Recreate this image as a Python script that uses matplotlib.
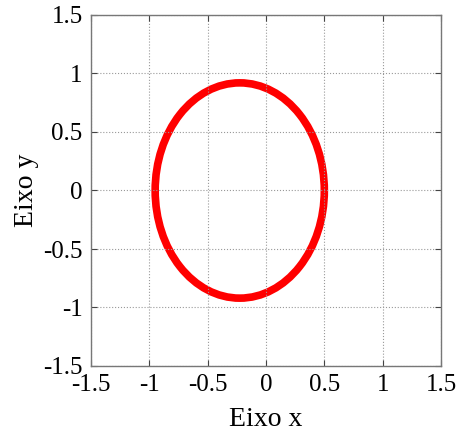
import matplotlib.pyplot as plt
from matplotlib.patches import Ellipse

# ellipse parameters
center_x = -0.225
center_y = 0.0
semi_x = 0.725
semi_y = 0.92

ticks = [-1.5, -1, -0.5, 0, 0.5, 1, 1.5]
tick_labels = ['-1.5', '-1', '-0.5', '0', '0.5', '1', '1.5']

plt.rcParams['font.family'] = ['Liberation Serif', 'DejaVu Serif']

fig = plt.figure(figsize=(4.59, 4.36), dpi=100)
ax = fig.add_axes([91 / 459, 70 / 436, 350 / 459, 351 / 436])

ell = Ellipse((center_x, center_y), 2 * semi_x, 2 * semi_y,
              fill=False, edgecolor='#ff0000', linewidth=5.5)
ax.add_patch(ell)

ax.set_xlim(-1.5, 1.5)
ax.set_ylim(-1.5, 1.5)
ax.set_xticks(ticks)
ax.set_xticklabels(tick_labels)
ax.set_yticks(ticks)
ax.set_yticklabels(tick_labels)

ax.grid(True, linestyle=':', color='#999999', linewidth=0.8)
ax.tick_params(direction='in', length=4, width=0.8, color='#444444',
               labelsize=18, top=True, right=True, pad=6)
for s in ax.spines.values():
    s.set_color('#777777')
    s.set_linewidth(1.0)

ax.set_xlabel('Eixo x', fontsize=20, labelpad=8)
ax.set_ylabel('Eixo y', fontsize=20, labelpad=3)

plt.savefig('out.png', dpi=100)
